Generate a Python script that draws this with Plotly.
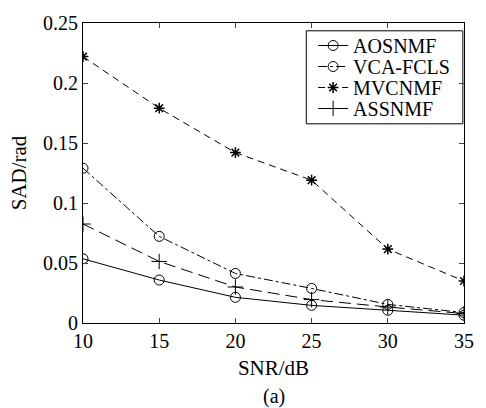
import plotly.graph_objects as go

snr = [10, 15, 20, 25, 30, 35]
aosnmf = [0.0535, 0.0358, 0.0214, 0.0147, 0.0106, 0.0065]
vca_fcls = [0.129, 0.0722, 0.0413, 0.0288, 0.0155, 0.0087]
mvcnmf = [0.222, 0.179, 0.142, 0.119, 0.0616, 0.035]
assnmf = [0.0825, 0.0513, 0.030, 0.0195, 0.0133, 0.0079]

x_ticks = [10, 15, 20, 25, 30, 35]
y_ticks = [0, 0.05, 0.1, 0.15, 0.2, 0.25]
y_tick_labels = ["0", "0.05", "0.1", "0.15", "0.2", "0.25"]

font = "Liberation Serif"

fig = go.Figure()
fig.add_trace(go.Scatter(x=snr, y=aosnmf, name="AOSNMF", mode="lines+markers", legend="legend",
                         line=dict(color="black", width=1, dash="solid"),
                         marker=dict(symbol="circle-open", size=10, color="black", line=dict(width=1))))
fig.add_trace(go.Scatter(x=snr, y=vca_fcls, name="VCA-FCLS", mode="lines+markers", legend="legend2",
                         line=dict(color="black", width=1, dash="dashdot"),
                         marker=dict(symbol="circle-open", size=10, color="black", line=dict(width=1))))
fig.add_trace(go.Scatter(x=snr, y=mvcnmf, name="MVCNMF", mode="lines+markers", legend="legend3",
                         line=dict(color="black", width=1, dash="7px,5px"),
                         marker=dict(symbol="asterisk-open", size=9, color="black", line=dict(width=1.5, color="black"))))
fig.add_trace(go.Scatter(x=snr, y=assnmf, name="ASSNMF", mode="lines+markers", legend="legend4",
                         line=dict(color="black", width=1, dash="12px,6px"),
                         marker=dict(symbol="cross-thin-open", size=11, color="black", line=dict(width=1, color="black"))))

legend_x = 0.604
legend_ys = [0.925, 0.855, 0.785, 0.715]


def leg(y):
    return dict(x=legend_x, y=y, xanchor="left", yanchor="middle",
                bgcolor="rgba(0,0,0,0)", borderwidth=0,
                font=dict(family=font, size=20, color="black"),
                itemwidth=30, tracegroupgap=0)


fig.update_layout(
    width=486, height=408,
    margin=dict(l=83, r=12, t=16, b=85),
    paper_bgcolor="white", plot_bgcolor="white",
    font=dict(family=font, size=20, color="black"),
    showlegend=True,
    legend=leg(legend_ys[0]),
    legend2=leg(legend_ys[1]),
    legend3=leg(legend_ys[2]),
    legend4=leg(legend_ys[3]),
    shapes=[dict(type="rect", xref="paper", yref="paper",
                 x0=0.586, x1=0.997, y0=0.664, y1=0.974,
                 line=dict(color="black", width=1), fillcolor="white", layer="below")],
    xaxis=dict(range=[10, 35], tickvals=x_ticks, ticks="inside", ticklen=5,
               showline=True, linecolor="black", linewidth=1, mirror="ticks",
               showgrid=False, zeroline=False,
               title=dict(text="SNR/dB", font=dict(family=font, size=21), standoff=9),
               tickfont=dict(family=font, size=20)),
    yaxis=dict(range=[0, 0.25], tickvals=y_ticks, ticktext=y_tick_labels,
               ticks="inside", ticklen=5,
               showline=True, linecolor="black", linewidth=1, mirror="ticks",
               showgrid=False, zeroline=False,
               title=dict(text="SAD/rad", font=dict(family=font, size=21), standoff=10),
               tickfont=dict(family=font, size=20)),
    annotations=[dict(text="(a)", x=0.5, y=-0.2, xref="paper", yref="paper",
                      xanchor="center", yanchor="top", showarrow=False,
                      font=dict(family=font, size=20, color="black"))],
)

fig.write_html("out.html")
